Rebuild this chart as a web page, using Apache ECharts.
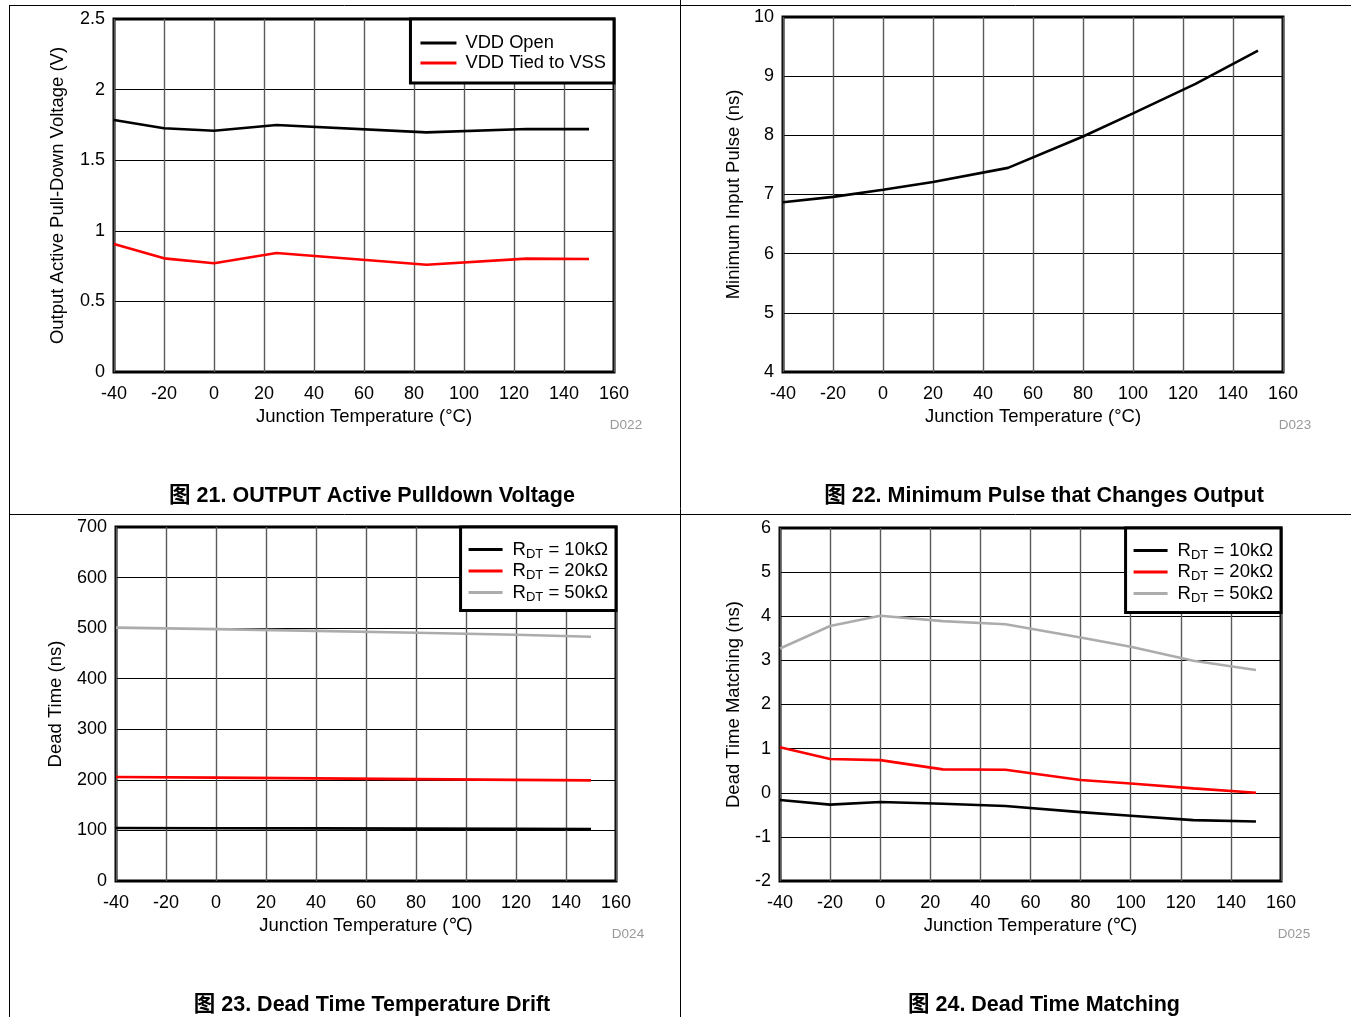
<!DOCTYPE html>
<html><head><meta charset="utf-8">
<script src="https://cdn.jsdelivr.net/npm/echarts@6/dist/echarts.min.js"></script>
<style>html,body{margin:0;padding:0;background:#fff}#c{width:1351px;height:1017px}</style>
</head><body><div id="c"></div>
<script>
// ---- Data ----
const xTicks = [-40,-20,0,20,40,60,80,100,120,140,160];
// Chart 21
const c1Temp = [-40,-20,0,25,85,125,150];
const c1VddOpen = [1.785,1.726,1.709,1.749,1.697,1.721,1.72];
const c1VddVss = [0.906,0.805,0.77,0.843,0.76,0.803,0.80];
// Chart 22
const c2Temp = [-40,-20,0,20,50,80,100,125,150];
const c2MinPulse = [6.87,6.96,7.08,7.21,7.45,7.98,8.37,8.87,9.43];
// Chart 23
const c3Temp = [-40,0,40,80,120,150];
const c3R10 = [104.8,104.3,104,103.6,103.2,102.8];
const c3R20 = [205.6,204.5,203,201.5,200,199];
const c3R50 = [501,498,494.5,491,487,483];
// Chart 24
const c4Temp = [-40,-20,0,25,50,80,100,125,150];
const c4R10 = [-0.165,-0.27,-0.21,-0.25,-0.30,-0.44,-0.52,-0.62,-0.65];
const c4R20 = [1.03,0.765,0.74,0.53,0.52,0.29,0.21,0.10,0.0];
const c4R50 = [3.27,3.78,4.01,3.89,3.82,3.52,3.31,2.99,2.78];

const FONT = '"Liberation Sans", Arial, sans-serif';
const CAPFONT = '"Liberation Sans", "Noto Sans CJK SC", sans-serif';
const pair = (xs, ys) => xs.map((x,i)=>[x, ys[i]]);

const grids = [
  {left:114, top:19, width:500, height:353},
  {left:783, top:17, width:500, height:355},
  {left:116, top:527, width:500, height:354},
  {left:780, top:528, width:501, height:353}
].map(g=>Object.assign({show:true, borderColor:'#000', borderWidth:3, backgroundColor:'#fff', containLabel:false}, g));

function xAx(i, name){
  return {type:'value', gridIndex:i, min:-40, max:160, interval:20,
    name:name, nameLocation:'middle', nameGap:35,
    nameTextStyle:{fontFamily:FONT, fontSize:18.5, color:'#000'},
    axisLine:{show:false}, axisTick:{show:false},
    axisLabel:{fontFamily:FONT, fontSize:18, color:'#000', margin:13},
    splitLine:{show:true, lineStyle:{color:'#5a5a5a', width:1.4}}};
}
function yAx(i, min, max, interval, name, gap){
  return {type:'value', gridIndex:i, min:min, max:max, interval:interval,
    name:name, nameLocation:'middle', nameGap:gap,
    nameTextStyle:{fontFamily:FONT, fontSize:18.5, color:'#000'},
    axisLine:{show:false}, axisTick:{show:false},
    axisLabel:{fontFamily:FONT, fontSize:18, color:'#000', margin:9},
    splitLine:{show:true, lineStyle:{color:'#000', width:1}}};
}

function line(name, xi, data, color){
  return {type:'line', name:name, xAxisIndex:xi, yAxisIndex:xi, data:data,
    showSymbol:false, symbol:'none', silent:true, animation:false,
    lineStyle:{color:color, width:2.6}, itemStyle:{color:color}, z:5};
}

const RDT10 = 'RDT = 10kΩ', RDT20 = 'RDT = 20kΩ', RDT50 = 'RDT = 50kΩ';
const rdtFmt = n => '{f|R}{s|DT}{a|' + n.slice(3) + '}';
const rdtRich = {
  f:{fontFamily:FONT, fontSize:18.5, color:'#000', padding:[0,0,0,5]},
  a:{fontFamily:FONT, fontSize:18.5, color:'#000'},
  s:{fontFamily:FONT, fontSize:13, color:'#000', verticalAlign:'bottom', padding:[9,0,0,0]}
};

function legend(right, top, data, pad, rich){
  const l = {right:right, top:top, orient:'vertical', data:data,
    backgroundColor:'#fff', borderColor:'#000', borderWidth:3, padding:pad,
    icon:'rect', itemWidth:rich?34:36, itemHeight:3, itemGap:2, z:10,
    selectedMode:false,
    textStyle:{fontFamily:FONT, fontSize:18.3, color:'#000', padding:[0,0,0,4]}};
  if (rich){ l.formatter = rdtFmt; l.textStyle = {fontFamily:FONT, fontSize:18.5, color:'#000', rich:rdtRich}; l.itemGap = 1; }
  return l;
}

function txt(x, y, text, opt){
  return {type:'text', x:x, y:y, style:Object.assign({text:text, fontFamily:FONT, fill:'#000'}, opt||{})};
}
const dStyle = {fontSize:13.5, fill:'#999', align:'center', verticalAlign:'middle'};
const capStyle = {fontSize:21.5, fontWeight:'bold', align:'center', verticalAlign:'middle', fontFamily:CAPFONT};

const option = {
  animation:false,
  backgroundColor:'#fff',
  grid: grids,
  xAxis:[
    xAx(0,'Junction Temperature (°C)'), xAx(1,'Junction Temperature (°C)'),
    xAx(2,'Junction Temperature (℃)'), xAx(3,'Junction Temperature (℃)')
  ],
  yAxis:[
    yAx(0,0,2.5,0.5,'Output Active Pull-Down Voltage (V)',47),
    yAx(1,4,10,1,'Minimum Input Pulse (ns)',40),
    yAx(2,0,700,100,'Dead Time (ns)',51),
    yAx(3,-2,6,1,'Dead Time Matching (ns)',37)
  ],
  legend:[
    legend(737, 19, ['VDD Open','VDD Tied to VSS'], [15,8,11,10], false),
    legend(735, 527, [RDT10,RDT20,RDT50], [13,8,7,8], true),
    legend(70, 528, [RDT10,RDT20,RDT50], [13,8,8,8], true)
  ],
  series:[
    line('VDD Open',0,pair(c1Temp,c1VddOpen),'#000'),
    line('VDD Tied to VSS',0,pair(c1Temp,c1VddVss),'#ff0000'),
    line('Minimum Pulse',1,pair(c2Temp,c2MinPulse),'#000'),
    line(RDT10,2,pair(c3Temp,c3R10),'#000'),
    line(RDT20,2,pair(c3Temp,c3R20),'#ff0000'),
    line(RDT50,2,pair(c3Temp,c3R50),'#acacac'),
    line(RDT10,3,pair(c4Temp,c4R10),'#000'),
    line(RDT20,3,pair(c4Temp,c4R20),'#ff0000'),
    line(RDT50,3,pair(c4Temp,c4R50),'#acacac')
  ],
  graphic:[
    {type:'line', shape:{x1:9,y1:5.5,x2:1351,y2:5.5}, style:{stroke:'#000', lineWidth:1}},
    {type:'line', shape:{x1:9,y1:514.5,x2:1351,y2:514.5}, style:{stroke:'#000', lineWidth:1}},
    {type:'line', shape:{x1:9.5,y1:5,x2:9.5,y2:1017}, style:{stroke:'#000', lineWidth:1}},
    {type:'line', shape:{x1:680.5,y1:0,x2:680.5,y2:1017}, style:{stroke:'#000', lineWidth:1}},
    txt(626, 425, 'D022', dStyle),
    txt(1295, 425, 'D023', dStyle),
    txt(628, 934, 'D024', dStyle),
    txt(1294, 934, 'D025', dStyle),
    txt(372, 496, '图 21. OUTPUT Active Pulldown Voltage', capStyle),
    txt(1044, 496, '图 22. Minimum Pulse that Changes Output', capStyle),
    txt(372, 1005, '图 23. Dead Time Temperature Drift', capStyle),
    txt(1044, 1005, '图 24. Dead Time Matching', capStyle)
  ]
};
const chart = echarts.init(document.getElementById('c'), null, {renderer:'canvas'});
chart.setOption(option);
</script></body></html>
